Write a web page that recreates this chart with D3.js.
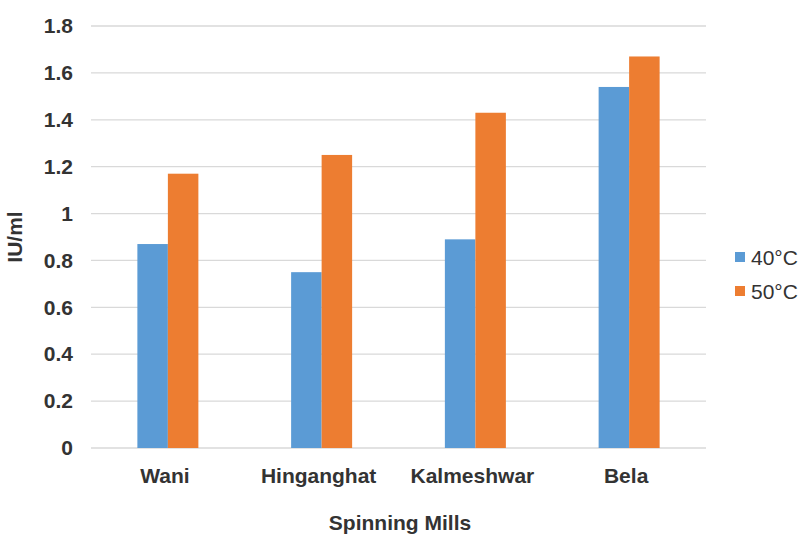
<!DOCTYPE html>
<html><head><meta charset="utf-8">
<script src="https://cdn.jsdelivr.net/npm/d3@7"></script>
<style>body{margin:0;background:#fff;}svg{display:block;font-family:"Liberation Sans",Arial,sans-serif;}</style>
</head><body>
<script>
const categories = ["Wani","Hinganghat","Kalmeshwar","Bela"];
const seriesNames = ["40°C","50°C"];
const values40 = [0.87,0.75,0.89,1.54];
const values50 = [1.17,1.25,1.43,1.67];
const yTicks = [0,0.2,0.4,0.6,0.8,1,1.2,1.4,1.6,1.8];
const colors = ["#5B9BD5","#ED7D31"];

const W=802,H=535;
const FONT="Liberation Sans, Arial, sans-serif";
const svg=d3.select("body").append("svg").attr("width",W).attr("height",H);
const m={left:91,right:706,top:26,bottom:448};
const x=d3.scaleBand().domain(categories).range([m.left,m.right]).paddingInner(0).paddingOuter(0);
const x1=d3.scaleBand().domain(seriesNames).range([0,61]);
const y=d3.scaleLinear().domain([0,1.8]).range([m.bottom,m.top]);

svg.append("g").selectAll("line").data(yTicks).join("line")
  .attr("x1",m.left).attr("x2",m.right).attr("y1",d=>y(d)).attr("y2",d=>y(d))
  .attr("stroke","#D9D9D9").attr("stroke-width",1.3);

const yAxis=svg.append("g").attr("transform",`translate(${m.left},0)`)
  .call(d3.axisLeft(y).tickValues(yTicks).tickSize(0).tickPadding(18).tickFormat(d=>String(d)));
yAxis.select(".domain").remove();
yAxis.selectAll("text").attr("font-size",21).attr("font-weight","bold").attr("fill","#333").attr("font-family",FONT);

const data=categories.map((c,i)=>({c,vals:[values40[i],values50[i]]}));
const g=svg.append("g").selectAll("g").data(data).join("g")
  .attr("transform",d=>`translate(${x(d.c)+x.bandwidth()/2-30.5},0)`);
g.selectAll("rect").data(d=>d.vals.map((v,j)=>({v,s:seriesNames[j],j}))).join("rect")
  .attr("x",d=>x1(d.s)).attr("width",x1.bandwidth())
  .attr("y",d=>y(d.v)).attr("height",d=>y(0)-y(d.v))
  .attr("fill",d=>colors[d.j]);

const xAxis=svg.append("g").attr("transform",`translate(-3,${m.bottom})`)
  .call(d3.axisBottom(x).tickSize(0).tickPadding(0));
xAxis.select(".domain").remove();
xAxis.selectAll("text").attr("dy",null).attr("y",35).attr("font-size",21).attr("font-weight","bold").attr("fill","#333").attr("font-family",FONT);

svg.append("text").attr("x",400).attr("y",530).attr("text-anchor","middle")
  .attr("font-size",21).attr("font-weight","bold").attr("fill","#333").text("Spinning Mills");
svg.append("text").attr("transform","translate(22,237) rotate(-90)").attr("text-anchor","middle")
  .attr("font-size",21).attr("font-weight","bold").attr("fill","#333").text("IU/ml");

const lg=svg.append("g").selectAll("g").data(seriesNames).join("g")
  .attr("transform",(d,i)=>`translate(735,${257+i*34})`);
lg.append("rect").attr("x",0).attr("y",-5).attr("width",10).attr("height",10).attr("fill",(d,i)=>colors[i]);
lg.append("text").attr("x",16).attr("y",7.5).attr("font-size",21).attr("fill","#333").text(d=>d);
</script>
</body></html>
